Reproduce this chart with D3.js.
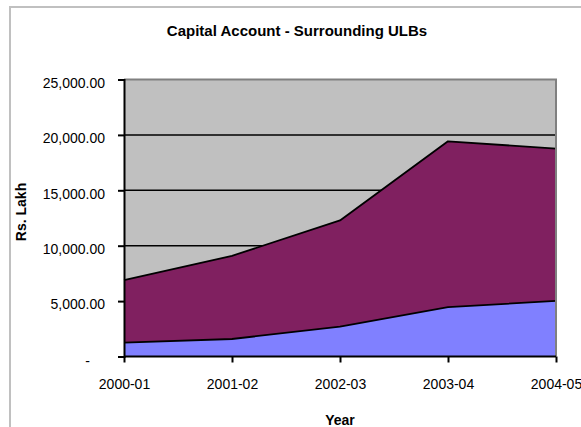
<!DOCTYPE html>
<html>
<head>
<meta charset="utf-8">
<script src="https://cdn.jsdelivr.net/npm/d3@7/dist/d3.min.js"></script>
<style>
  html, body { margin: 0; padding: 0; background: #ffffff; }
  svg { display: block; }
  text { font-family: "Liberation Sans", Arial, sans-serif; fill: #000; }
</style>
</head>
<body>
<svg id="chart" width="581" height="427"></svg>
<script>
// Capital account of the surrounding ULBs, Rs. Lakh, stacked by series
const years = ["2000-01", "2001-02", "2002-03", "2003-04", "2004-05"];
const seriesLower = [1250, 1580, 2700, 4450, 5020];
const seriesUpper = [5640, 7510, 9580, 14970, 13740];
const yTicks = [0, 5000, 10000, 15000, 20000, 25000];

const svg = d3.select("#chart");
const W = 581, H = 427;
const plot = { left: 124, right: 556, top: 79.5, bottom: 356.5 };

// outer chart frame
svg.append("path")
  .attr("d", `M10,${H} L10,7 L${W},7`)
  .attr("fill", "none").attr("stroke", "#c0c0c0").attr("stroke-width", 2);

const x = d3.scalePoint().domain(years).range([plot.left, plot.right]);
const y = d3.scaleLinear().domain([0, 25000]).range([plot.bottom, plot.top]);

// plot background
svg.append("rect")
  .attr("x", plot.left).attr("y", plot.top)
  .attr("width", plot.right - plot.left).attr("height", plot.bottom - plot.top)
  .attr("fill", "#c0c0c0");

// gridlines
svg.append("g").selectAll("line")
  .data(yTicks.filter(v => v > 0 && v < 25000))
  .join("line")
  .attr("x1", plot.left).attr("x2", plot.right)
  .attr("y1", d => y(d)).attr("y2", d => y(d))
  .attr("stroke", "#000").attr("stroke-width", 1.5);

// stacked areas
const rows = years.map((yr, i) => ({ year: yr, lower: seriesLower[i], upper: seriesUpper[i] }));
const stack = d3.stack().keys(["lower", "upper"])(rows);
const colors = { lower: "#8080ff", upper: "#802060" };

const area = d3.area()
  .x(d => x(d.data.year))
  .y0(d => y(d[0]))
  .y1(d => y(d[1]));
const topLine = d3.line()
  .x(d => x(d.data.year))
  .y(d => y(d[1]));

stack.forEach(s => {
  svg.append("path").datum(s)
    .attr("d", area)
    .attr("fill", colors[s.key]);
});
stack.forEach(s => {
  svg.append("path").datum(s)
    .attr("d", topLine)
    .attr("fill", "none")
    .attr("stroke", "#000").attr("stroke-width", 1.8)
    .attr("stroke-linejoin", "round");
});

// plot frame: gray top and right edges
svg.append("path")
  .attr("d", `M${plot.left},${plot.top} L${plot.right},${plot.top} L${plot.right},${plot.bottom}`)
  .attr("fill", "none").attr("stroke", "#808080").attr("stroke-width", 2);

// y axis
const fmt = v => v === 0 ? "-" : d3.format(",.2f")(v);
const yAxis = svg.append("g")
  .attr("transform", `translate(${plot.left},0)`)
  .call(d3.axisLeft(y).tickValues(yTicks).tickFormat(fmt).tickSize(6).tickPadding(13));
yAxis.select(".domain").attr("stroke", "#000").attr("stroke-width", 2);
yAxis.selectAll(".tick line").attr("stroke", "#000").attr("stroke-width", 2);
yAxis.selectAll(".tick text")
  .attr("font-size", 14)
  .attr("font-family", "Liberation Sans, Arial, sans-serif")
  .attr("dx", d => d === 0 ? -15 : 0)
  .attr("dy", d => d === 0 ? "0.62em" : "0.55em");

// x axis
const xAxis = svg.append("g")
  .attr("transform", `translate(0,${plot.bottom})`)
  .call(d3.axisBottom(x).tickSize(6).tickPadding(17));
xAxis.select(".domain").attr("stroke", "#000").attr("stroke-width", 2)
  .attr("d", `M${plot.left},0H${plot.right}`);
xAxis.selectAll(".tick line").attr("stroke", "#000").attr("stroke-width", 2);
xAxis.selectAll(".tick text")
  .attr("font-size", 14)
  .attr("font-family", "Liberation Sans, Arial, sans-serif");

// titles
svg.append("text")
  .attr("x", 297).attr("y", 36)
  .attr("text-anchor", "middle")
  .attr("font-size", 15).attr("font-weight", "bold")
  .text("Capital Account - Surrounding ULBs");

svg.append("text")
  .attr("x", 340).attr("y", 425)
  .attr("text-anchor", "middle")
  .attr("font-size", 14).attr("font-weight", "bold")
  .text("Year");

svg.append("text")
  .attr("transform", "translate(26,212) rotate(-90)")
  .attr("text-anchor", "middle")
  .attr("font-size", 14).attr("font-weight", "bold")
  .text("Rs. Lakh");
</script>
</body>
</html>
